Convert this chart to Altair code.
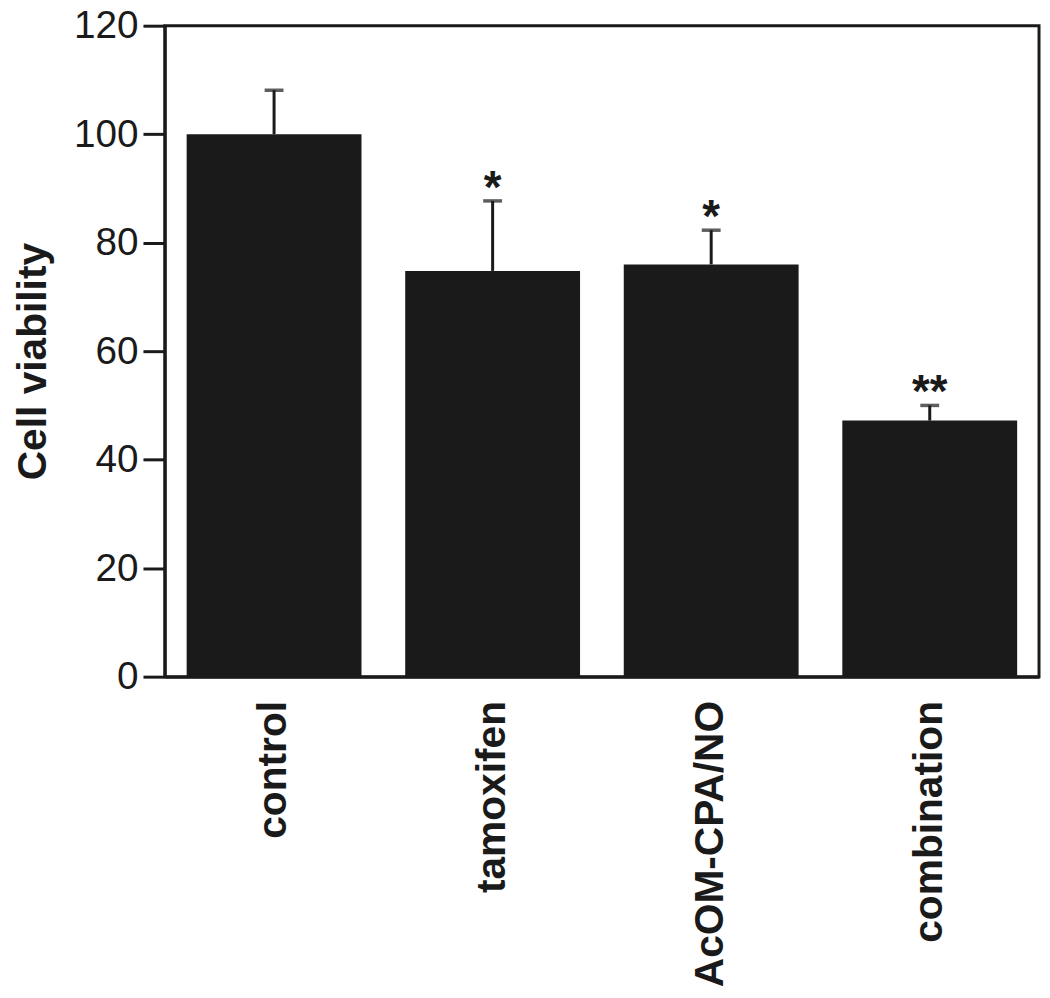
import altair as alt
import pandas as pd

categories = ["control", "tamoxifen", "AcOM-CPA/NO", "combination"]
means = [100.0, 74.8, 76.0, 47.2]
errors = [8.1, 12.9, 6.3, 2.8]
stars = ["", "*", "*", "**"]

df = pd.DataFrame({
    "group": categories,
    "mean": means,
    "top": [m + e for m, e in zip(means, errors)],
    "star": stars,
})

INK = "#1a1a1a"
FONT = "Liberation Sans"

x = alt.X("group:N", sort=categories,
          scale=alt.Scale(paddingInner=0.2, paddingOuter=0.1),
          axis=alt.Axis(title=None, labelAngle=270, labelAlign="right",
                        labelBaseline="middle", labelPadding=24, ticks=False,
                        labelFont=FONT, labelFontSize=41, labelFontWeight="bold",
                        labelColor=INK, domainColor=INK, domainWidth=3,
                        labelLimit=400))

y_axis = alt.Axis(values=[0, 20, 40, 60, 80, 100, 120], grid=False,
                  tickSize=22, tickWidth=3, tickColor=INK,
                  domainColor=INK, domainWidth=3,
                  labelPadding=5, labelFont=FONT, labelFontSize=39,
                  labelColor=INK,
                  title="Cell viability", titleFont=FONT, titleFontSize=41,
                  titleFontWeight="bold", titleColor=INK, titleAngle=270,
                  titleAlign="center", titleBaseline="alphabetic",
                  titleX=-120, titleY=338)

base = alt.Chart(df)

bars = base.mark_bar(color=INK).encode(
    x=x,
    y=alt.Y("mean:Q", scale=alt.Scale(domain=[0, 120], nice=False), axis=y_axis),
)

err = base.mark_rule(color=INK, strokeWidth=3).encode(
    x=alt.X("group:N", sort=categories),
    y="mean:Q",
    y2="top:Q",
)

cap = base.mark_tick(color=INK, size=19, thickness=3.5).encode(
    x=alt.X("group:N", sort=categories),
    y="top:Q",
)

text = base.mark_text(font=FONT, fontSize=46, fontWeight="bold", color=INK,
                      baseline="alphabetic", dy=2).encode(
    x=alt.X("group:N", sort=categories),
    y="top:Q",
    text="star:N",
)

chart = alt.layer(bars, err, cap, text).properties(
    width=881, height=656,
    autosize=alt.AutoSizeParams(type="none"),
    padding={"left": 158, "top": 14, "right": 3, "bottom": 320},
).configure_view(stroke=INK, strokeWidth=3)

chart.save("out.html", embed_options={"renderer": "svg", "actions": False})
